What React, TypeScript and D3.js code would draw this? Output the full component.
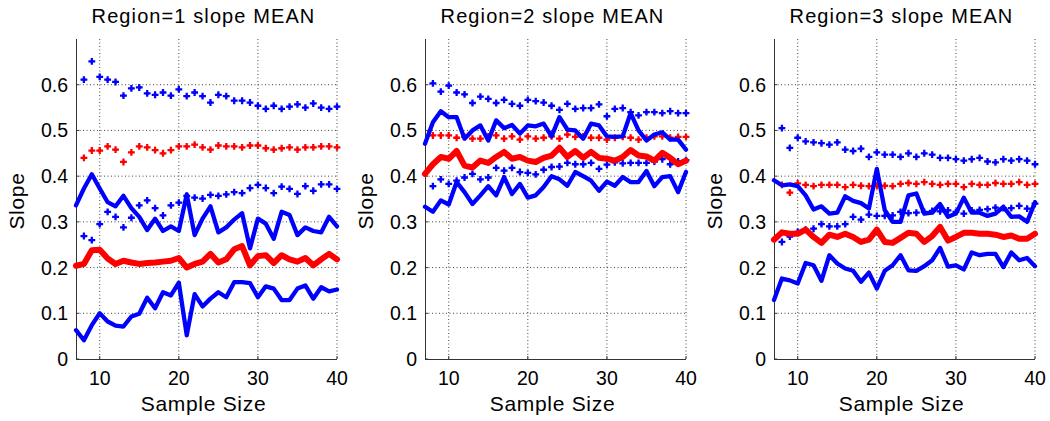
import React, { useEffect, useRef } from 'react';
import * as d3 from 'd3';

// sample sizes for the solid lines and for the dotted series
const sizesLine = [7, 8, 9, 10, 11, 12, 13, 14, 15, 16, 17, 18, 19, 20, 21, 22, 23, 24, 25, 26, 27, 28, 29, 30, 31, 32, 33, 34, 35, 36, 37, 38, 39, 40];
const sizesDots = [8, 9, 10, 11, 12, 13, 14, 15, 16, 17, 18, 19, 20, 21, 22, 23, 24, 25, 26, 27, 28, 29, 30, 31, 32, 33, 34, 35, 36, 37, 38, 39, 40];

const xTicks = [10, 20, 30, 40];
const yTicks = [0, 0.1, 0.2, 0.3, 0.4, 0.5, 0.6];
const titles = ['Region=1 slope MEAN', 'Region=2 slope MEAN', 'Region=3 slope MEAN'];

// Region 1
const r1Upper = [0.336, 0.373, 0.404, 0.373, 0.343, 0.334, 0.357, 0.33, 0.311, 0.282, 0.307, 0.28, 0.29, 0.28, 0.36, 0.271, 0.307, 0.334, 0.277, 0.288, 0.305, 0.319, 0.242, 0.307, 0.296, 0.263, 0.322, 0.315, 0.271, 0.288, 0.28, 0.277, 0.311, 0.29];
const r1Mean = [0.204, 0.208, 0.238, 0.239, 0.22, 0.208, 0.215, 0.211, 0.208, 0.21, 0.211, 0.213, 0.215, 0.221, 0.2, 0.208, 0.213, 0.23, 0.211, 0.218, 0.24, 0.247, 0.205, 0.225, 0.227, 0.21, 0.227, 0.218, 0.213, 0.221, 0.205, 0.218, 0.23, 0.218];
const r1Lower = [0.063, 0.041, 0.074, 0.1, 0.082, 0.073, 0.071, 0.093, 0.099, 0.134, 0.111, 0.146, 0.139, 0.167, 0.052, 0.142, 0.115, 0.132, 0.146, 0.135, 0.168, 0.168, 0.166, 0.135, 0.159, 0.154, 0.129, 0.129, 0.154, 0.161, 0.132, 0.157, 0.148, 0.152];
const r1DotHigh = [0.611, 0.651, 0.617, 0.611, 0.606, 0.576, 0.592, 0.594, 0.581, 0.578, 0.583, 0.576, 0.59, 0.575, 0.583, 0.575, 0.561, 0.578, 0.575, 0.565, 0.565, 0.561, 0.554, 0.547, 0.554, 0.547, 0.552, 0.557, 0.55, 0.559, 0.55, 0.547, 0.552];
const r1DotMid = [0.44, 0.456, 0.456, 0.465, 0.458, 0.431, 0.452, 0.465, 0.463, 0.457, 0.45, 0.457, 0.465, 0.465, 0.469, 0.463, 0.458, 0.467, 0.465, 0.465, 0.463, 0.467, 0.467, 0.461, 0.458, 0.461, 0.463, 0.458, 0.463, 0.463, 0.465, 0.465, 0.463];
const r1DotLow = [0.269, 0.26, 0.295, 0.322, 0.311, 0.288, 0.309, 0.336, 0.347, 0.33, 0.314, 0.336, 0.342, 0.357, 0.353, 0.351, 0.359, 0.357, 0.36, 0.365, 0.363, 0.374, 0.381, 0.374, 0.363, 0.377, 0.372, 0.361, 0.378, 0.368, 0.382, 0.382, 0.372];

// Region 2
const r2Upper = [0.471, 0.518, 0.542, 0.529, 0.529, 0.482, 0.5, 0.511, 0.478, 0.522, 0.505, 0.512, 0.493, 0.511, 0.509, 0.515, 0.487, 0.529, 0.502, 0.5, 0.482, 0.515, 0.511, 0.487, 0.486, 0.487, 0.538, 0.5, 0.478, 0.491, 0.496, 0.48, 0.48, 0.458];
const r2Mean = [0.405, 0.426, 0.442, 0.438, 0.455, 0.423, 0.419, 0.434, 0.429, 0.442, 0.453, 0.438, 0.442, 0.434, 0.431, 0.44, 0.445, 0.462, 0.442, 0.455, 0.44, 0.453, 0.44, 0.438, 0.434, 0.442, 0.457, 0.445, 0.443, 0.434, 0.451, 0.44, 0.426, 0.434];
const r2Lower = [0.333, 0.322, 0.347, 0.338, 0.387, 0.365, 0.339, 0.358, 0.378, 0.358, 0.398, 0.361, 0.383, 0.353, 0.358, 0.376, 0.4, 0.393, 0.379, 0.409, 0.4, 0.39, 0.368, 0.388, 0.379, 0.398, 0.387, 0.387, 0.411, 0.378, 0.398, 0.4, 0.365, 0.409];
const r2DotHigh = [0.603, 0.585, 0.598, 0.583, 0.579, 0.56, 0.574, 0.569, 0.56, 0.567, 0.558, 0.554, 0.567, 0.564, 0.561, 0.554, 0.545, 0.558, 0.547, 0.549, 0.549, 0.557, 0.531, 0.547, 0.549, 0.54, 0.533, 0.54, 0.54, 0.538, 0.542, 0.538, 0.538];
const r2DotMid = [0.489, 0.489, 0.489, 0.484, 0.486, 0.482, 0.482, 0.487, 0.489, 0.482, 0.487, 0.48, 0.487, 0.482, 0.484, 0.487, 0.482, 0.491, 0.486, 0.487, 0.484, 0.484, 0.48, 0.484, 0.486, 0.484, 0.48, 0.484, 0.487, 0.487, 0.484, 0.486, 0.486];
const r2DotLow = [0.378, 0.393, 0.383, 0.39, 0.397, 0.405, 0.393, 0.397, 0.418, 0.412, 0.418, 0.409, 0.407, 0.404, 0.414, 0.42, 0.421, 0.429, 0.426, 0.426, 0.429, 0.416, 0.425, 0.43, 0.428, 0.429, 0.429, 0.429, 0.432, 0.437, 0.426, 0.432, 0.435];

// Region 3
const r3Upper = [0.391, 0.38, 0.382, 0.378, 0.358, 0.327, 0.334, 0.318, 0.32, 0.356, 0.346, 0.341, 0.329, 0.416, 0.326, 0.3, 0.3, 0.358, 0.362, 0.318, 0.32, 0.339, 0.311, 0.318, 0.353, 0.32, 0.32, 0.313, 0.318, 0.333, 0.311, 0.312, 0.3, 0.343];
const r3Mean = [0.261, 0.277, 0.274, 0.274, 0.283, 0.267, 0.254, 0.272, 0.267, 0.274, 0.267, 0.256, 0.261, 0.283, 0.256, 0.254, 0.265, 0.276, 0.274, 0.256, 0.269, 0.289, 0.259, 0.267, 0.276, 0.276, 0.274, 0.274, 0.272, 0.267, 0.27, 0.263, 0.263, 0.274];
const r3Lower = [0.129, 0.176, 0.172, 0.165, 0.21, 0.205, 0.171, 0.227, 0.209, 0.198, 0.193, 0.169, 0.189, 0.154, 0.193, 0.205, 0.227, 0.194, 0.193, 0.203, 0.216, 0.243, 0.202, 0.205, 0.196, 0.233, 0.227, 0.23, 0.23, 0.201, 0.233, 0.216, 0.221, 0.203];
const r3DotHigh = [0.505, 0.462, 0.484, 0.476, 0.474, 0.472, 0.469, 0.474, 0.458, 0.455, 0.46, 0.442, 0.452, 0.447, 0.447, 0.442, 0.45, 0.442, 0.45, 0.447, 0.44, 0.44, 0.437, 0.434, 0.437, 0.44, 0.432, 0.43, 0.437, 0.434, 0.437, 0.434, 0.426];
const r3DotMid = [0.381, 0.364, 0.384, 0.381, 0.378, 0.381, 0.381, 0.381, 0.376, 0.381, 0.379, 0.378, 0.379, 0.379, 0.378, 0.383, 0.385, 0.383, 0.387, 0.383, 0.381, 0.383, 0.383, 0.376, 0.383, 0.381, 0.381, 0.385, 0.383, 0.383, 0.387, 0.381, 0.383];
const r3DotLow = [0.256, 0.268, 0.278, 0.283, 0.285, 0.295, 0.29, 0.29, 0.295, 0.311, 0.305, 0.316, 0.313, 0.313, 0.314, 0.322, 0.319, 0.32, 0.322, 0.324, 0.323, 0.325, 0.322, 0.318, 0.325, 0.326, 0.328, 0.331, 0.33, 0.33, 0.335, 0.329, 0.34];

const regions = [
  { lines: [r1Upper, r1Mean, r1Lower], dots: [r1DotHigh, r1DotMid, r1DotLow] },
  { lines: [r2Upper, r2Mean, r2Lower], dots: [r2DotHigh, r2DotMid, r2DotLow] },
  { lines: [r3Upper, r3Mean, r3Lower], dots: [r3DotHigh, r3DotMid, r3DotLow] },
];

const BLUE = '#0000ff';
const RED = '#ff0000';
const FONT = '"Liberation Sans", Arial, Helvetica, sans-serif';

const App = () => {
  const svgRef = useRef<SVGSVGElement>(null);

  useEffect(() => {
    const root = d3.select(svgRef.current);
    root.selectAll('*').remove();

    const panelLeft = [76, 425, 774];
    const plotW = 261;
    const top = 39;
    const bottom = 359;

    regions.forEach((reg, i) => {
      const g = root.append('g').attr('transform', `translate(${panelLeft[i]},0)`);

      const x = d3.scaleLinear().domain([7, 40]).range([0, plotW]);
      const y = d3.scaleLinear().domain([0, 0.7]).range([bottom, top]);

      // dotted grid
      g.selectAll('.vgrid')
        .data(xTicks)
        .enter()
        .append('line')
        .attr('x1', d => x(d))
        .attr('x2', d => x(d))
        .attr('y1', top)
        .attr('y2', bottom)
        .attr('stroke', '#444')
        .attr('stroke-width', 1)
        .attr('stroke-dasharray', '1,2.5');
      g.selectAll('.hgrid')
        .data(yTicks.filter(d => d > 0))
        .enter()
        .append('line')
        .attr('x1', 0)
        .attr('x2', plotW)
        .attr('y1', d => y(d))
        .attr('y2', d => y(d))
        .attr('stroke', '#444')
        .attr('stroke-width', 1)
        .attr('stroke-dasharray', '1,2.5');

      // axes (MATLAB style, box off)
      g.append('line')
        .attr('x1', 0.5).attr('x2', 0.5)
        .attr('y1', top).attr('y2', bottom)
        .attr('stroke', '#333');
      g.append('line')
        .attr('x1', 0).attr('x2', plotW)
        .attr('y1', bottom + 0.5).attr('y2', bottom + 0.5)
        .attr('stroke', '#333');
      g.selectAll('.xtick')
        .data(xTicks)
        .enter()
        .append('line')
        .attr('x1', d => x(d)).attr('x2', d => x(d))
        .attr('y1', bottom).attr('y2', bottom - 3)
        .attr('stroke', '#333');
      g.selectAll('.ytick')
        .data(yTicks)
        .enter()
        .append('line')
        .attr('x1', 0).attr('x2', 3)
        .attr('y1', d => y(d)).attr('y2', d => y(d))
        .attr('stroke', '#333');

      // tick labels
      g.selectAll('.xlab')
        .data(xTicks)
        .enter()
        .append('text')
        .attr('x', d => x(d))
        .attr('y', bottom + 26)
        .attr('text-anchor', 'middle')
        .style('font-family', FONT)
        .style('font-size', '19.5px')
        .text(d => d);
      g.selectAll('.ylab')
        .data(yTicks)
        .enter()
        .append('text')
        .attr('x', -8)
        .attr('y', d => y(d))
        .attr('dy', '0.36em')
        .attr('text-anchor', 'end')
        .style('font-family', FONT)
        .style('font-size', '19.5px')
        .text(d => (d === 0 ? '0' : d3.format('.1f')(d)));

      // dotted series (MATLAB '.' markers)
      const sym = d3.symbol().type(d3.symbolCross).size(26);
      const dotColors = [BLUE, RED, BLUE];
      reg.dots.forEach((vals, k) => {
        const dg = g.append('g').attr('fill', dotColors[k]);
        dg.selectAll('path')
          .data(vals)
          .enter()
          .append('path')
          .attr('d', sym)
          .attr('transform', (d, j) => `translate(${x(sizesDots[j])},${y(d)})`);
        dg.selectAll('circle')
          .data(vals)
          .enter()
          .append('circle')
          .attr('cx', (d, j) => x(sizesDots[j]))
          .attr('cy', d => y(d))
          .attr('r', 1.7);
      });

      // solid lines
      const line = d3.line<number>()
        .x((d, j) => x(sizesLine[j]))
        .y(d => y(d));
      const lineColors = [BLUE, RED, BLUE];
      const lineWidths = [4.3, 6, 4.3];
      reg.lines.forEach((vals, k) => {
        g.append('path')
          .datum(vals)
          .attr('d', line)
          .attr('fill', 'none')
          .attr('stroke', lineColors[k])
          .attr('stroke-width', lineWidths[k])
          .attr('stroke-linejoin', 'round')
          .attr('stroke-linecap', 'round');
      });

      // title
      g.append('text')
        .attr('x', plotW / 2 - 3)
        .attr('y', 23)
        .attr('text-anchor', 'middle')
        .style('font-family', FONT)
        .style('font-size', '20px')
        .style('letter-spacing', '1.1px')
        .text(titles[i]);

      // x label
      g.append('text')
        .attr('x', plotW / 2 - 3)
        .attr('y', 411)
        .attr('text-anchor', 'middle')
        .style('font-family', FONT)
        .style('font-size', '21px')
        .style('letter-spacing', '0.7px')
        .text('Sample Size');

      // y label
      g.append('text')
        .attr('transform', `translate(-52,${(top + bottom) / 2 + 2}) rotate(-90)`)
        .attr('text-anchor', 'middle')
        .style('font-family', FONT)
        .style('font-size', '21px')
        .style('letter-spacing', '0.7px')
        .text('Slope');
    });
  }, []);

  return (
    <svg
      ref={svgRef}
      width={1050}
      height={421}
      style={{ position: 'absolute', left: 0, top: 0, background: '#fff' }}
    />
  );
};

export default App;
